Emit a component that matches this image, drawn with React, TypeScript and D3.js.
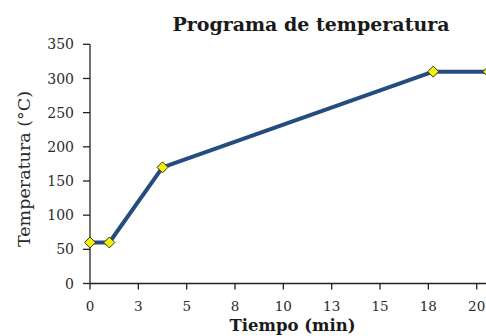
import React from "react";
import * as d3 from "d3";

const times = [0, 1, 3.75, 17.75, 20.6];
const temps = [60, 60, 170, 310, 310];
const xTicks = [0, 2.5, 5, 7.5, 10, 12.5, 15, 17.5, 20];
const yTicks = [0, 50, 100, 150, 200, 250, 300, 350];

const W = 486;
const H = 336;
const FONT = "'DejaVu Serif', serif";

export default function App() {
  const x = d3.scaleLinear().domain([0, 20]).range([90, 476.7]);
  const y = d3.scaleLinear().domain([0, 350]).range([283.5, 44.3]);
  const line = d3
    .line<number>()
    .x((_, i) => x(times[i]))
    .y((d) => y(d));
  const pts = temps.map((t, i) => ({ cx: x(times[i]), cy: y(t) }));

  return (
    <svg
      width={W}
      height={H}
      style={{ position: "absolute", left: 0, top: 0, background: "#fff" }}
    >
      <text
        x={311}
        y={31}
        textAnchor="middle"
        fontFamily={FONT}
        fontWeight="bold"
        fontSize={19}
        fill="#1a1a1a"
      >
        Programa de temperatura
      </text>

      {/* y axis */}
      <line x1={90} x2={90} y1={y(350)} y2={y(0)} stroke="#222" strokeWidth={1.3} />
      {yTicks.map((t) => (
        <g key={t}>
          <line x1={83} x2={90} y1={y(t)} y2={y(t)} stroke="#222" strokeWidth={1.3} />
          <text
            x={74}
            y={y(t)}
            dy="0.36em"
            textAnchor="end"
            fontFamily={FONT}
            fontSize={14}
            fill="#2a2a2a"
          >
            {t}
          </text>
        </g>
      ))}

      {/* x axis */}
      <line x1={90} x2={W} y1={y(0)} y2={y(0)} stroke="#222" strokeWidth={1.3} />
      {xTicks.map((t) => (
        <g key={t}>
          <line x1={x(t)} x2={x(t)} y1={y(0)} y2={y(0) + 6} stroke="#222" strokeWidth={1.3} />
          <text
            x={x(t)}
            y={y(0) + 27.5}
            textAnchor="middle"
            fontFamily={FONT}
            fontSize={13.5}
            fill="#2a2a2a"
          >
            {d3.format(".0f")(Math.round(t))}
          </text>
        </g>
      ))}

      <text
        x={292.5}
        y={331}
        textAnchor="middle"
        fontFamily={FONT}
        fontWeight="bold"
        fontSize={16.5}
        fill="#1a1a1a"
      >
        Tiempo (min)
      </text>
      <text
        transform="translate(30,169) rotate(-90)"
        textAnchor="middle"
        fontFamily={FONT}
        fontSize={17.5}
        fill="#2a2a2a"
      >
        Temperatura (°C)
      </text>

      <path d={line(temps) || ""} fill="none" stroke="#244c7e" strokeWidth={4} strokeLinejoin="round" />
      {pts.map((p, i) => (
        <path
          key={i}
          d={`M${p.cx},${p.cy - 5.5}L${p.cx + 5.5},${p.cy}L${p.cx},${p.cy + 5.5}L${p.cx - 5.5},${p.cy}Z`}
          fill="#f5f000"
          stroke="#333"
          strokeWidth={1}
        />
      ))}
    </svg>
  );
}
